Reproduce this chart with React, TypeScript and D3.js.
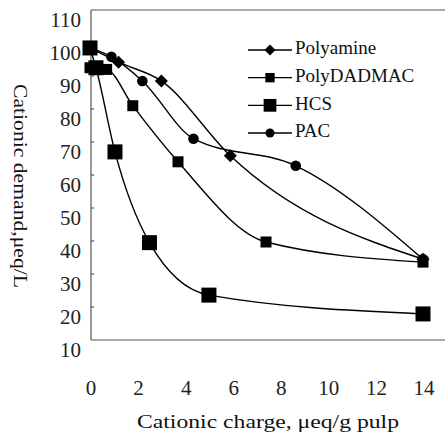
import React from 'react';
import * as d3 from 'd3';

const seriesNames = ['Polyamine', 'PolyDADMAC', 'HCS', 'PAC'];

const polyamineX = [0, 1.2, 3.0, 5.9, 14];
const polyamineY = [98.5, 94.2, 88.5, 65.8, 34.5];

const polyDadmacX = [0, 0.7, 1.8, 3.7, 7.4, 14];
const polyDadmacY = [92.5, 92, 81, 64, 39.7, 33.6];

const hcsX = [0, 0.25, 1.05, 2.5, 5.0, 14];
const hcsY = [98.5, 92.5, 67, 39.5, 23.6, 17.9];

const pacX = [0, 0.9, 2.2, 4.35, 8.65, 14];
const pacY = [98.5, 95.8, 88.5, 71, 62.8, 34.5];

const xTicks = [0, 2, 4, 6, 8, 10, 12, 14];
const yTicks = [10, 20, 30, 40, 50, 60, 70, 80, 90, 100, 110];

const xTitle = 'Cationic  charge,  μeq/g  pulp';
const yTitle = 'Cationic  demand,μeq/L';

const W = 445;
const H = 435;
const left = 91;
const top = 10;
const bottom = 340;
const right = 445;

const serif = { fontFamily: "'Liberation Serif', 'Times New Roman', serif" };

type Marker = 'diamond' | 'smallSquare' | 'bigSquare' | 'circle';

const markerFor: Record<string, Marker> = {
    Polyamine: 'diamond',
    PolyDADMAC: 'smallSquare',
    HCS: 'bigSquare',
    PAC: 'circle'
};

const drawMarker = (kind: Marker, cx: number, cy: number, key: string | number, scale = 1) => {
    if (kind === 'diamond') {
        const s = 6.5 * scale;
        return <path key={key} d={`M${cx},${cy - s}L${cx + s},${cy}L${cx},${cy + s}L${cx - s},${cy}Z`} fill="#000" />;
    }
    if (kind === 'smallSquare') {
        const s = 5.5 * scale;
        return <rect key={key} x={cx - s} y={cy - s} width={2 * s} height={2 * s} fill="#000" />;
    }
    if (kind === 'bigSquare') {
        const s = 7.5 * scale;
        return <rect key={key} x={cx - s} y={cy - s} width={2 * s} height={2 * s} fill="#000" />;
    }
    return <circle key={key} cx={cx} cy={cy} r={5.3 * scale} fill="#000" />;
};

const App = () => {
    const x = d3.scaleLinear().domain([0, 14]).range([90, 423]);
    const y = d3.scaleLinear().domain([10, 110]).range([bottom, top]);

    const series = [
        { name: 'Polyamine', xs: polyamineX, ys: polyamineY },
        { name: 'PolyDADMAC', xs: polyDadmacX, ys: polyDadmacY },
        { name: 'HCS', xs: hcsX, ys: hcsY },
        { name: 'PAC', xs: pacX, ys: pacY }
    ];

    const line = d3.line<[number, number]>()
        .x(d => x(d[0]))
        .y(d => y(d[1]))
        .curve(d3.curveMonotoneX);

    const legendY = d3.scalePoint<string>().domain(seriesNames).range([50, 133]);

    return (
        <svg width={W} height={H} style={{ position: 'absolute', left: 0, top: 0, background: '#fff' }}>
            {/* frame */}
            <g stroke="#555" strokeWidth={1.2} fill="none">
                <line x1={left} y1={top} x2={right} y2={top} />
                <line x1={left} y1={top} x2={left} y2={bottom} />
                <line x1={left} y1={bottom} x2={right} y2={bottom} />
                {yTicks.slice(1, -1).map(t => (
                    <line key={t} x1={left} y1={y(t)} x2={left + 3} y2={y(t)} />
                ))}
            </g>

            {/* y tick labels, shifted down as in the print */}
            {yTicks.map(t => (
                <text key={t} x={81} y={y(t) + 12} dominantBaseline="middle" textAnchor="end"
                    fontSize={21} fill="#222" style={serif}>{t}</text>
            ))}

            {/* x tick labels */}
            {xTicks.map(t => (
                <text key={t} x={x(t) + 1} y={395} textAnchor="middle" fontSize={21} fill="#222" style={serif}>{t}</text>
            ))}

            <text x={268} y={428} fontSize={19} textAnchor="middle" fill="#111" style={serif}
                textLength={262} lengthAdjust="spacingAndGlyphs">{xTitle}</text>
            <text transform="translate(18,186) rotate(90)" fontSize={19} textAnchor="middle"
                dominantBaseline="middle" fill="#111" style={serif}
                textLength={204} lengthAdjust="spacingAndGlyphs">{yTitle}</text>

            {/* curves */}
            {series.map(s => {
                const pts = s.xs.map((v, i) => [v, s.ys[i]] as [number, number]);
                return (
                    <g key={s.name}>
                        <path d={line(pts) || ''} fill="none" stroke="#000" strokeWidth={1.4} />
                        {pts.map((p, i) => drawMarker(markerFor[s.name], x(p[0]), y(p[1]), i))}
                    </g>
                );
            })}

            {/* legend */}
            {seriesNames.map(n => {
                const ly = legendY(n) as number;
                return (
                    <g key={n}>
                        <line x1={248} x2={292} y1={ly} y2={ly} stroke="#000" strokeWidth={1.3} />
                        {drawMarker(markerFor[n], 270, ly, 'm', 0.85)}
                        <text x={295} y={ly} dominantBaseline="middle" fontSize={19} fill="#111" style={serif}>{n}</text>
                    </g>
                );
            })}
        </svg>
    );
};

export default App;
